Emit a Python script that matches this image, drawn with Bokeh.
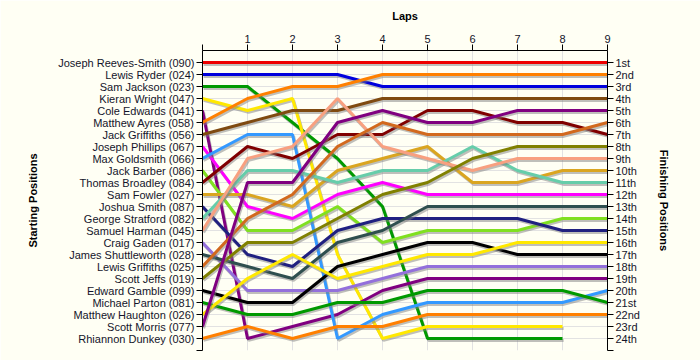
from bokeh.plotting import figure
from bokeh.models import ColumnDataSource, LinearAxis, FixedTicker, Range1d
from bokeh.transform import dodge
from bokeh.embed import file_html
from bokeh.resources import INLINE

nan = float("nan")

laps = [0, 1, 2, 3, 4, 5, 6, 7, 8, 9]

drivers = [
    "Joseph Reeves-Smith (090)", "Lewis Ryder (024)", "Sam Jackson (023)",
    "Kieran Wright (047)", "Cole Edwards (041)", "Matthew Ayres (058)",
    "Jack Griffiths (056)", "Joseph Phillips (067)", "Max Goldsmith (066)",
    "Jack Barber (086)", "Thomas Broadley (084)", "Sam Fowler (027)",
    "Joshua Smith (087)", "George Stratford (082)", "Samuel Harman (045)",
    "Craig Gaden (017)", "James Shuttleworth (028)", "Lewis Griffiths (025)",
    "Scott Jeffs (019)", "Edward Gamble (099)", "Michael Parton (081)",
    "Matthew Haughton (026)", "Scott Morris (077)", "Rhiannon Dunkey (030)",
]

colors = [
    "#ee0000", "#0000dd", "#009900", "#ffe800", "#800080", "#ff8000",
    "#7f4a10", "#ff00ff", "#3399ff", "#80e020", "#800000", "#daa520",
    "#202080", "#66cdaa", "#f8a080", "#9370db", "#2f4f4f", "#d2691e",
    "#808000", "#000000", "#009900", "#ffe800", "#800080", "#ff8000",
]

# running position of each driver (starting order) at laps 0..9
running_order = [
    [1, 1, 1, 1, 1, 1, 1, 1, 1, 1],
    [2, 2, 2, 2, 3, 3, 3, 3, 3, 3],
    [3, 3, 6, 9, 13, 24, 24, 24, 24, nan],
    [4, 5, 4, 17, 24, 23, 23, 23, 23, nan],
    [5, 24, 23, 22, 20, 19, 19, 19, 19, 19],
    [6, 4, 3, 3, 2, 2, 2, 2, 2, 2],
    [7, 6, 5, 5, 4, 4, 4, 4, 4, 4],
    [8, 13, 14, 12, 11, 12, 12, 12, 12, 12],
    [9, 7, 7, 24, 22, 21, 21, 21, 21, 20],
    [10, 15, 15, 13, 16, 15, 15, 15, 14, 14],
    [11, 8, 9, 7, 7, 5, 5, 6, 6, 7],
    [12, 12, 13, 10, 9, 8, 11, 11, 10, 10],
    [13, 17, 18, 15, 14, 14, 14, 14, 15, 15],
    [14, 10, 10, 11, 10, 10, 8, 10, 11, 11],
    [15, 9, 8, 4, 8, 9, 10, 9, 9, 9],
    [16, 20, 20, 20, 19, 18, 18, 18, 18, 18],
    [17, 18, 19, 16, 15, 13, 13, 13, 13, 13],
    [18, 14, 12, 8, 6, 7, 7, 7, 7, 6],
    [19, 16, 16, 14, 12, 11, 9, 8, 8, 8],
    [20, 21, 21, 18, 17, 16, 16, 17, 17, 17],
    [21, 22, 22, 21, 21, 20, 20, 20, 20, 21],
    [22, 19, 17, 19, 18, 17, 17, 16, 16, 16],
    [23, 11, 11, 6, 5, 6, 6, 5, 5, 5],
    [24, 23, 24, 23, 23, 22, 22, 22, 22, 22],
]

finish_labels = [
    "1st", "2nd", "3rd", "4th", "5th", "6th", "7th", "8th", "9th", "10th",
    "11th", "12th", "13th", "14th", "15th", "16th", "17th", "18th", "19th",
    "20th", "21st", "22nd", "23rd", "24th",
]

bg = "#fffff4"
font = "Liberation Sans"
txt = "#14142a"

pos_ticks = list(range(1, len(drivers) + 2))

p = figure(
    width=700, height=360,
    x_range=Range1d(0, 9), y_range=Range1d(25, 0),
    output_backend="svg", toolbar_location=None,
    x_axis_location="above", y_axis_location="left",
    min_border_left=202, min_border_right=93,
    min_border_top=50, min_border_bottom=10,
    background_fill_color=bg, border_fill_color=bg,
    outline_line_color=None,
)

right = LinearAxis()
p.add_layout(right, "right")

for ax in p.axis:
    ax.major_label_text_font = font
    ax.major_label_text_font_size = "11px"
    ax.major_label_text_color = txt
    ax.axis_label_text_font = font
    ax.axis_label_text_font_size = "11px"
    ax.axis_label_text_font_style = "bold"
    ax.axis_label_text_color = "#000000"
    ax.axis_line_color = "#000000"
    ax.major_tick_line_color = "#000000"
    ax.minor_tick_line_color = None
    ax.major_tick_in = 0
    ax.major_tick_out = 6
    ax.major_label_standoff = 2

xa = p.xaxis[0]
xa.ticker = FixedTicker(ticks=laps)
xa.major_label_overrides = {0: ""}
xa.axis_label = "Laps"
xa.axis_label_standoff = 10

ya = p.yaxis[0]
ya.ticker = FixedTicker(ticks=pos_ticks)
ya.major_label_overrides = {**{i + 1: n for i, n in enumerate(drivers)}, 25: ""}
ya.axis_label = "Starting Positions"
ya.axis_label_standoff = 16

right.ticker = FixedTicker(ticks=pos_ticks)
right.major_label_overrides = {**{i + 1: n for i, n in enumerate(finish_labels)}, 25: ""}
right.axis_label = "Finishing Positions"
right.axis_label_standoff = 15

p.xgrid.ticker = FixedTicker(ticks=laps)
p.ygrid.ticker = FixedTicker(ticks=pos_ticks)
p.grid.grid_line_color = "#e2e2e2"
p.grid.grid_line_width = 1

for name, col, order in zip(drivers, colors, running_order):
    src = ColumnDataSource(dict(x=laps, y=order))
    p.line(x=dodge("x", 0.025), y=dodge("y", 0.16), source=src,
           line_color="#808080", line_alpha=0.5, line_width=3)
    p.line(x="x", y="y", source=src, line_color=col, line_width=3)

open("out.html", "w").write(file_html(p, INLINE))
